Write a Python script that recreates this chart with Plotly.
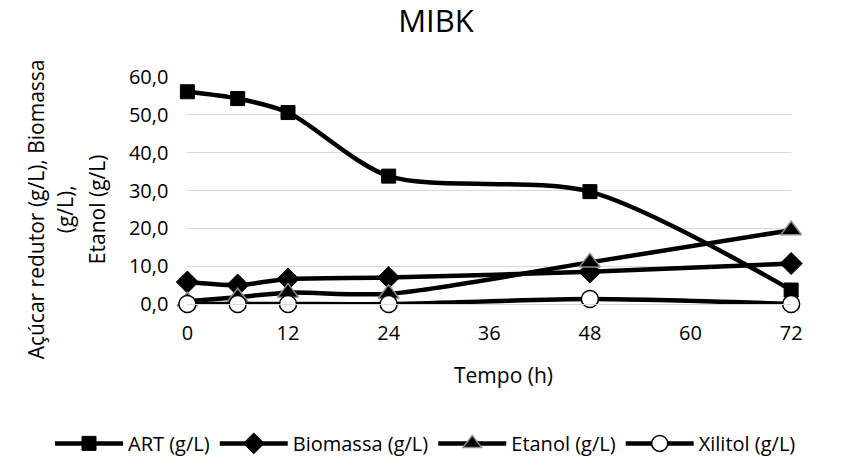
import plotly.graph_objects as go

tempo = [0, 6, 12, 24, 48, 72]
art = [56.1, 54.3, 50.6, 33.8, 29.7, 3.7]
biomassa = [5.8, 5.0, 6.6, 7.0, 8.5, 10.7]
etanol = [0.7, 1.8, 3.0, 2.7, 11.0, 19.5]
xilitol = [0.0, 0.0, 0.0, 0.0, 1.3, 0.0]
x_ticks = [0, 12, 24, 36, 48, 60, 72]
y_ticks = [0, 10, 20, 30, 40, 50, 60]
y_labels = ["0,0", "10,0", "20,0", "30,0", "40,0", "50,0", "60,0"]
y_title_lines = ["Açúcar redutor (g/L), Biomassa", "(g/L),", "Etanol (g/L)"]

FONT = "Open Sans"
W, H = 854, 475
ML, MR, T, B = 20, 20, 77, 170
GW = W - ML - MR
PH = H - T - B
X0, X1 = 188, 794  # plot area pixel extents

def px_x(px):
    return (px - ML) / GW

def px_y(py):
    return (H - B - py) / PH

fig = go.Figure()

def add(name, y, symbol, size, fill, outline, ow):
    fig.add_trace(go.Scatter(
        x=tempo, y=y, name=name, mode="lines+markers",
        line=dict(color="black", width=4.5, shape="spline", smoothing=0.8),
        marker=dict(symbol=symbol, size=size, color=fill,
                    line=dict(color=outline, width=ow)),
        cliponaxis=False))

add("ART (g/L)", art, "square", 14, "black", "black", 1)
add("Biomassa (g/L)", biomassa, "diamond", 17, "black", "black", 1)
add("Etanol (g/L)", etanol, "triangle-up", 18, "black", "#8c8c8c", 1.5)
add("Xilitol (g/L)", xilitol, "circle", 17, "white", "black", 1.5)

annotations = []
for cx, line in zip([36, 66, 98], y_title_lines):
    annotations.append(dict(text=line, x=px_x(cx), y=px_y(210), xref="paper", yref="paper",
                            xanchor="center", yanchor="middle", textangle=-90,
                            showarrow=False, font=dict(size=21, family=FONT, color="black")))
annotations.append(dict(text="Tempo (h)", x=px_x(505), y=px_y(376), xref="paper", yref="paper",
                        xanchor="center", yanchor="middle", showarrow=False,
                        font=dict(size=21, family=FONT, color="black")))

fig.update_layout(
    width=W, height=H,
    margin=dict(l=ML, r=MR, t=T, b=B),
    paper_bgcolor="white", plot_bgcolor="white",
    font=dict(family=FONT, color="black", size=20),
    title=dict(text="MIBK", x=436 / W, xanchor="center", y=1 - 21 / H, yanchor="middle",
               font=dict(size=31, family=FONT)),
    showlegend=True,
    legend=dict(orientation="h", x=px_x(427), xanchor="center", y=px_y(445), yanchor="middle",
                font=dict(size=20, family=FONT), tracegroupgap=0, itemwidth=68),
    annotations=annotations,
    xaxis=dict(domain=[px_x(X0), px_x(X1)], range=[0, 72], tickvals=x_ticks,
               showgrid=False, zeroline=False,
               showline=True, linecolor="#d9d9d9", linewidth=1,
               ticks="outside", ticklen=11, tickcolor="rgba(0,0,0,0)",
               tickfont=dict(size=20)),
    yaxis=dict(range=[0, 60], tickvals=y_ticks, ticktext=y_labels,
               showgrid=True, gridcolor="#d9d9d9", gridwidth=1, zeroline=False,
               ticks="outside", ticklen=14, tickcolor="rgba(0,0,0,0)",
               tickfont=dict(size=20)),
)

fig.write_html("out.html")
